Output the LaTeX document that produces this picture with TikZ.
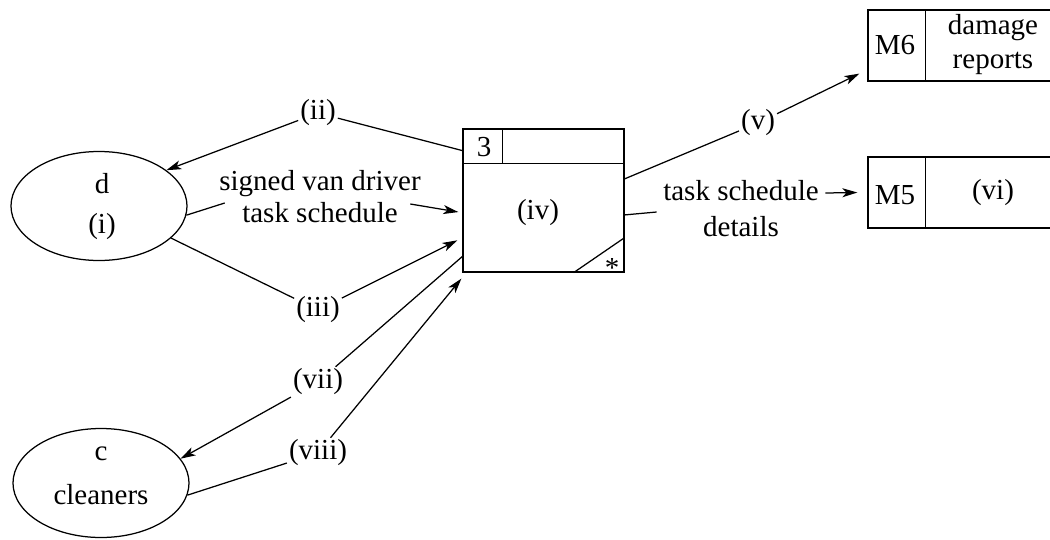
\documentclass[tikz,border=0pt]{standalone}
\usepackage{fontspec}
\setmainfont{Liberation Serif}
\usetikzlibrary{arrows.meta,shapes.geometric,calc}
\begin{document}
\begin{tikzpicture}[x=1pt,y=-1pt,
  line width=1.25pt,
  every node/.style={font=\fontsize{29}{34}\selectfont, inner sep=1.5pt},
  txt/.style={align=center, inner sep=0pt},
  ent/.style={draw, ellipse, minimum width=176pt, minimum height=109pt, inner sep=0pt},
  arr/.style={-{Stealth[length=15pt,width=9pt,inset=4pt]}},
  box/.style={draw, rectangle, inner sep=0pt}
]
\useasboundingbox (0,0) rectangle (1050,539);

% process box
\node[box, minimum width=161pt, minimum height=143pt] (proc) at (543.5,200.5) {};
\draw ($(proc.north west)+(0,35)$) -- ($(proc.north east)+(0,35)$);
\draw ($(proc.north west)+(40,0)$) -- ($(proc.north west)+(40,35)$);
\draw ($(proc.south east)+(-51,0)$) -- ($(proc.south east)+(0,-35)$);
\node (pnum) at (484,147) {3};
\node (pname) at (538,213) {(iv)};
\node (pstar) at (612,268) {*};

% entities
\node[ent] (d) at (99,206) {};
\node (dt) at (102,184) {d};
\node (dn) at (102,227) {(i)};
\node[ent] (c) at (101,483) {};
\node (ct) at (101,454) {c};
\node (cn) at (101,495) {cleaners};

% stores
\node[box, minimum width=192pt, minimum height=71pt] (m6) at (964,45.5) {};
\draw ($(m6.north west)+(58,0)$) -- ($(m6.south west)+(58,0)$);
\node (m6id) at (895,45) {M6};
\node[txt] (m6n) at (993,45) {damage\\reports};
\node[box, minimum width=192pt, minimum height=71pt] (m5) at (964,192.5) {};
\draw ($(m5.north west)+(58,0)$) -- ($(m5.south west)+(58,0)$);
\node (m5id) at (895,195) {M5};
\node (m5n) at (993,193) {(vi)};

% labels
\node (ii) at (318,113) {(ii)};
\node (iii) at (318,310) {(iii)};
\node (vii) at (318,382) {(vii)};
\node (viii) at (318,453) {(viii)};
\node (v) at (758,123) {(v)};
\node[txt, font=\fontsize{29}{32}\selectfont] (sig) at (320,197) {signed van driver\\task schedule};
\node[txt, font=\fontsize{29}{36}\selectfont] (tsd) at (741,209) {task schedule\\details};

% connectors
\draw ($(proc.north west)!0.154!(proc.south west)$) -- (ii);
\draw[arr] (ii) -- (d.28);
\draw (d.-6) -- ($(sig.west)+(6,6)$);
\draw[arr] ($(sig.east)+(-11,7)$) -- ($(proc.north west)!0.58!(proc.south west)+(-4,0)$);
\draw (d.-24) -- (iii);
\draw[arr] (iii) -- ($(proc.north west)!0.776!(proc.south west)+(-5,0)$);
\draw ($(proc.north west)!0.888!(proc.south west)$) -- (vii);
\draw[arr] (vii) -- (c.17);
\draw (c.-8) -- (viii);
\draw[arr] (viii) -- ($(proc.south west)+(-1,6)$);
\draw ($(proc.north east)!0.35!(proc.south east)$) -- (v);
\draw[arr] (v) -- ($(m6.south west)+(-8,-8)$);
\draw ($(proc.north east)!0.60!(proc.south east)$) -- ($(tsd.west)+(-6,3)$);
\draw[arr] ($(tsd.east)+(6,-16)$) -- ($(m5.west)+(-10,0)$);
\end{tikzpicture}
\end{document}
